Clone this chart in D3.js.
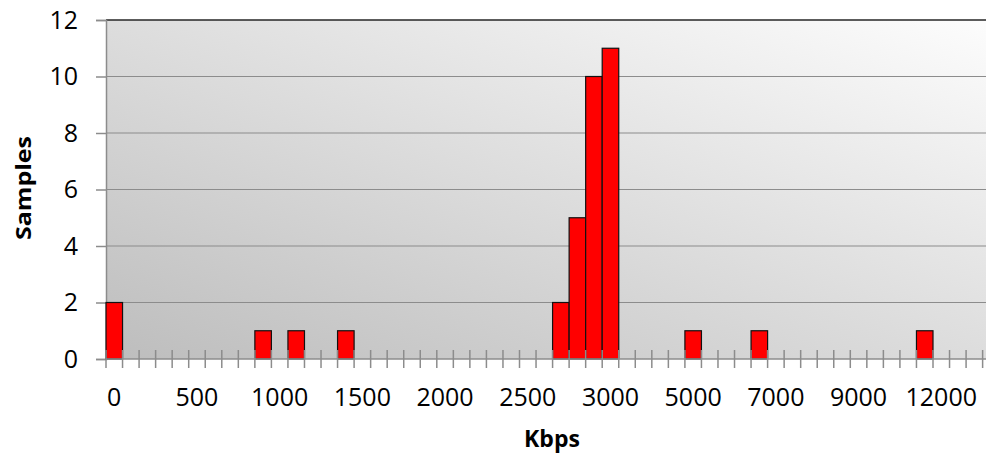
<!DOCTYPE html>
<html lang="en">
<head>
    <meta charset="UTF-8">
    <script src="https://cdnjs.cloudflare.com/ajax/libs/d3/7.9.0/d3.min.js"></script>
    <title>Kbps histogram</title>
    <style>
        body {
            margin: 0;
            padding: 0;
            background: #fff;
            font-family: "Open Sans", Arial, sans-serif;
        }
        svg { display: block; }
    </style>
</head>
<body>
<div id="chart"></div>
<script>
    // bins (Kbps) - one bar slot per bin
    const bins = [0, 100, 200, 300, 400, 500, 600, 700, 800, 900,
        1000, 1100, 1200, 1300, 1400, 1500, 1600, 1700, 1800, 1900,
        2000, 2100, 2200, 2300, 2400, 2500, 2600, 2700, 2800, 2900,
        3000, 3400, 3800, 4200, 4600, 5000, 5400, 5800, 6200, 6600,
        7000, 7400, 7800, 8200, 8600, 9000, 9600, 10200, 10800, 11400,
        12000, 12600, 13200, 13800];

    // sample counts per bin
    const samples = [2, 0, 0, 0, 0, 0, 0, 0, 0, 1,
        0, 1, 0, 0, 1, 0, 0, 0, 0, 0,
        0, 0, 0, 0, 0, 0, 0, 2, 5, 10,
        11, 0, 0, 0, 0, 1, 0, 0, 0, 1,
        0, 0, 0, 0, 0, 0, 0, 0, 0, 1,
        0, 0, 0, 0];

    const xLabels = [0, 500, 1000, 1500, 2000, 2500, 3000, 5000, 7000, 9000, 12000];
    const yTicks = [0, 2, 4, 6, 8, 10, 12];

    const width = 986, height = 454;
    const plotLeft = 106, plotTop = 20, plotBottom = 359;
    const band = 16.54;
    const plotRight = plotLeft + band * bins.length;

    const svg = d3.select("#chart").append("svg")
        .attr("width", width)
        .attr("height", height);

    const x = d3.scaleBand()
        .domain(bins)
        .range([plotLeft, plotRight])
        .padding(0);

    const y = d3.scaleLinear()
        .domain([0, 12])
        .range([plotBottom, plotTop]);

    // plot background gradient (dark bottom-left to light top-right)
    const grad = svg.append("defs").append("linearGradient")
        .attr("id", "bg")
        .attr("x1", 0).attr("y1", 1)
        .attr("x2", 1).attr("y2", 0);
    grad.append("stop").attr("offset", "0%").attr("stop-color", "#bdbdbd");
    grad.append("stop").attr("offset", "100%").attr("stop-color", "#fdfdfd");

    svg.append("rect")
        .attr("x", plotLeft).attr("y", plotTop)
        .attr("width", plotRight - plotLeft).attr("height", plotBottom - plotTop)
        .attr("fill", "url(#bg)");

    // gridlines
    svg.append("g")
        .selectAll("line")
        .data(yTicks.filter(d => d > 0 && d < 12))
        .join("line")
        .attr("x1", plotLeft).attr("x2", plotRight)
        .attr("y1", d => y(d)).attr("y2", d => y(d))
        .attr("stroke", "#8c8c8c")
        .attr("stroke-width", 1.2);

    // top border
    svg.append("line")
        .attr("x1", plotLeft).attr("x2", plotRight)
        .attr("y1", y(12)).attr("y2", y(12))
        .attr("stroke", "#262626")
        .attr("stroke-width", 1.5);

    // y axis
    const yAxis = svg.append("g")
        .attr("transform", `translate(${plotLeft},0)`)
        .call(d3.axisLeft(y).tickValues(yTicks).tickSize(10).tickPadding(18));
    yAxis.select(".domain").attr("stroke", "#8c8c8c").attr("stroke-width", 1.5);
    yAxis.selectAll(".tick line").attr("stroke", "#8c8c8c").attr("stroke-width", 1.5);
    yAxis.selectAll("text")
        .attr("fill", "#000")
        .style("font-family", "'Open Sans', sans-serif")
        .style("font-size", "25px");

    // bars
    svg.append("g")
        .selectAll("rect")
        .data(bins.map((b, i) => ({ bin: b, value: samples[i] })).filter(d => d.value > 0))
        .join("rect")
        .attr("x", d => x(d.bin))
        .attr("y", d => y(d.value))
        .attr("width", x.bandwidth())
        .attr("height", d => y(0) - y(d.value))
        .attr("fill", "#ff0000")
        .attr("stroke", "#111")
        .attr("stroke-width", 1.2);

    // x axis: boundary ticks crossing the axis line
    svg.append("line")
        .attr("x1", plotLeft).attr("x2", plotRight)
        .attr("y1", plotBottom).attr("y2", plotBottom)
        .attr("stroke", "#8c8c8c")
        .attr("stroke-width", 1.5);

    svg.append("g")
        .selectAll("line")
        .data(bins)
        .join("line")
        .attr("x1", d => x(d)).attr("x2", d => x(d))
        .attr("y1", plotBottom - 9).attr("y2", plotBottom + 9)
        .attr("stroke", "#8c8c8c")
        .attr("stroke-width", 1.5);

    svg.append("g")
        .selectAll("text")
        .data(xLabels)
        .join("text")
        .attr("x", d => x(d) + x.bandwidth() / 2)
        .attr("y", 406)
        .attr("text-anchor", "middle")
        .style("font-size", "25px")
        .text(d => d);

    // axis titles
    svg.append("text")
        .attr("x", 552)
        .attr("y", 447)
        .attr("text-anchor", "middle")
        .style("font-size", "23px")
        .style("font-weight", "bold")
        .text("Kbps");

    svg.append("text")
        .attr("transform", "translate(31,188) rotate(-90)")
        .attr("text-anchor", "middle")
        .attr("textLength", 104)
        .attr("lengthAdjust", "spacingAndGlyphs")
        .style("font-size", "21px")
        .style("font-weight", "bold")
        .text("Samples");
</script>
</body>
</html>
